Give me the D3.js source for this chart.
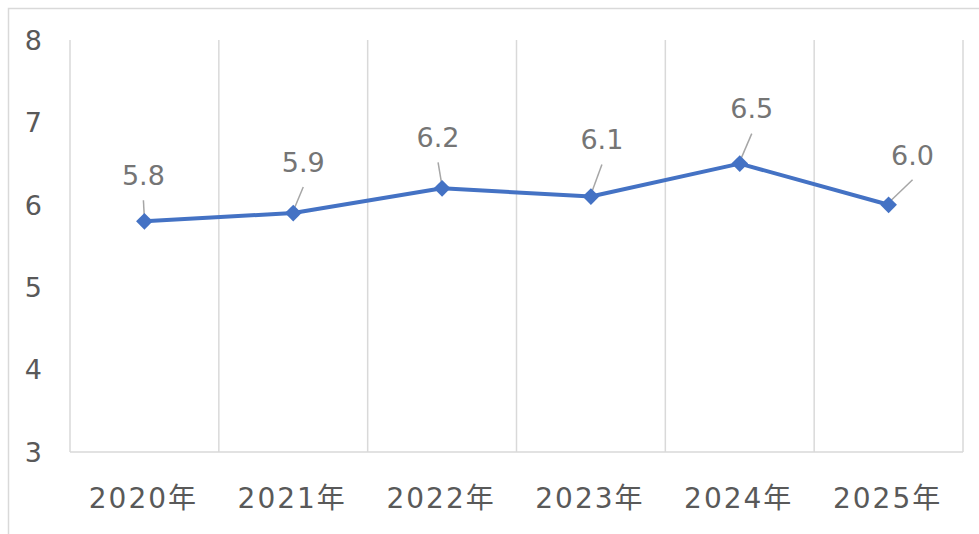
<!DOCTYPE html>
<html>
<head>
<meta charset="utf-8">
<script src="https://cdn.jsdelivr.net/npm/d3@7"></script>
<style>
	html, body { margin: 0; padding: 0; background: #fff; }
	svg { display: block; }
</style>
</head>
<body>
<script>
// chart data
const years = ["2020年", "2021年", "2022年", "2023年", "2024年", "2025年"];
const values = [5.8, 5.9, 6.2, 6.1, 6.5, 6.0];
const yTicks = [3, 4, 5, 6, 7, 8];

// data label placement relative to its point (Excel moved these by hand)
const labelOffsets = [[-1, -46], [10, -51], [-4, -51], [11, -57], [12, -55], [24, -50]];

const W = 979, H = 534;
const GRID_COLOR = "#d9d9d9";
const LINE_COLOR = "#4472c4";
const TEXT_COLOR = "#595959";
const FONT = "'DejaVu Sans', Verdana, 'Noto Sans CJK JP', sans-serif";

const svg = d3.select("body").append("svg")
	.attr("width", W)
	.attr("height", H);

// chart frame (right/bottom edges fall outside the picture)
svg.append("rect")
	.attr("x", 8.5).attr("y", 8.5)
	.attr("width", W + 10).attr("height", H + 10)
	.attr("fill", "none")
	.attr("stroke", GRID_COLOR)
	.attr("stroke-width", 1.5);

const x = d3.scaleBand().domain(years).range([70, 963]).padding(0);
const y = d3.scaleLinear().domain([3, 8]).range([452, 40]);
const cx = d => x(d) + x.bandwidth() / 2;

// vertical gridlines at category boundaries
const bounds = years.map(d => x(d)).concat([x.range()[1]]);
svg.append("g").selectAll("line")
	.data(bounds)
	.join("line")
	.attr("x1", d => d).attr("x2", d => d)
	.attr("y1", y(8)).attr("y2", y(3))
	.attr("stroke", GRID_COLOR)
	.attr("stroke-width", 1.5);

// x axis line
svg.append("line")
	.attr("x1", x.range()[0]).attr("x2", x.range()[1])
	.attr("y1", y(3)).attr("y2", y(3))
	.attr("stroke", GRID_COLOR)
	.attr("stroke-width", 1.5);

// y tick labels
svg.append("g").selectAll("text")
	.data(yTicks)
	.join("text")
	.attr("x", 42)
	.attr("y", d => y(d))
	.attr("dy", "0.36em")
	.attr("text-anchor", "end")
	.attr("font-family", FONT)
	.attr("font-size", 27)
	.attr("fill", TEXT_COLOR)
	.text(d => d);

// x category labels
svg.append("g").selectAll("text")
	.data(years)
	.join("text")
	.attr("x", d => cx(d) - 1)
	.attr("y", 508)
	.attr("text-anchor", "middle")
	.attr("font-family", FONT)
	.attr("font-size", 28)
	.attr("letter-spacing", 2)
	.attr("fill", TEXT_COLOR)
	.text(d => d);

const pts = years.map((d, i) => ({ year: d, v: values[i], off: labelOffsets[i] }));

// leader lines
svg.append("g").selectAll("line")
	.data(pts)
	.join("line")
	.attr("x1", d => cx(d.year) + d.off[0])
	.attr("y1", d => y(d.v) + d.off[1] + 25)
	.attr("x2", d => cx(d.year))
	.attr("y2", d => y(d.v) - 2)
	.attr("stroke", "#a6a6a6")
	.attr("stroke-width", 1.5);

// series line
const line = d3.line()
	.x(d => cx(d.year))
	.y(d => y(d.v));

svg.append("path")
	.attr("d", line(pts))
	.attr("fill", "none")
	.attr("stroke", LINE_COLOR)
	.attr("stroke-width", 4)
	.attr("stroke-linejoin", "round");

// diamond markers
svg.append("g").selectAll("path")
	.data(pts)
	.join("path")
	.attr("d", d3.symbol(d3.symbolSquare, 140)())
	.attr("transform", d => `translate(${cx(d.year)},${y(d.v)}) rotate(45)`)
	.attr("fill", LINE_COLOR);

// data labels
svg.append("g").selectAll("text")
	.data(pts)
	.join("text")
	.attr("x", d => cx(d.year) + d.off[0])
	.attr("y", d => y(d.v) + d.off[1])
	.attr("dy", "0.36em")
	.attr("text-anchor", "middle")
	.attr("font-family", FONT)
	.attr("font-size", 27)
	.attr("fill", "#757575")
	.text(d => d.v.toFixed(1));
</script>
</body>
</html>
